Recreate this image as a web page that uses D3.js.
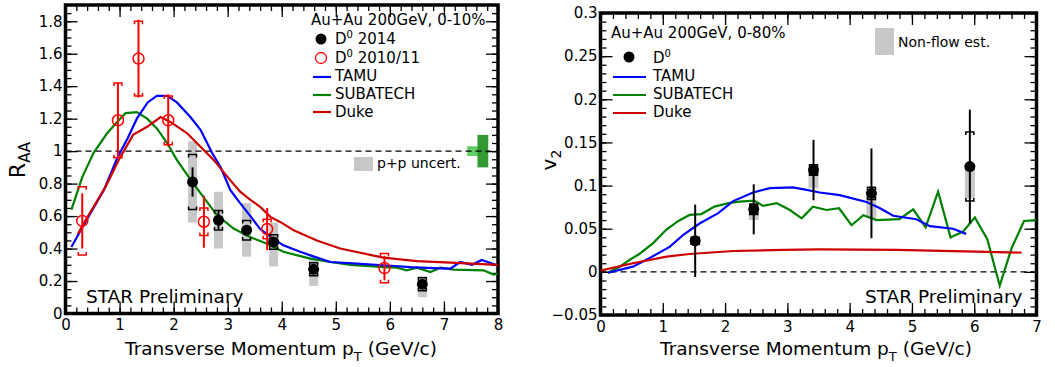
<!DOCTYPE html>
<html><head><meta charset="utf-8">
<script src="https://cdn.jsdelivr.net/npm/d3@7"></script>
<style>html,body{margin:0;padding:0;background:#fff;}svg{display:block;font-family:"DejaVu Sans",sans-serif;}</style>
</head><body>
<svg id="c" width="1055" height="367"></svg>
<script>
// ---------- DATA: left panel (R_AA, Au+Au 0-10%) ----------
const raaTicksY = [0,0.2,0.4,0.6,0.8,1,1.2,1.4,1.6,1.8];
const raaTicksX = [0,1,2,3,4,5,6,7,8];
const pt2014   = [2.35, 2.83, 3.35, 3.85, 4.59, 6.60];
const raa2014  = [0.81, 0.575, 0.513, 0.44, 0.272, 0.18];
const stat2014 = [0.09, 0.06, 0.025, 0.03, 0.02, 0.02];
const sys2014  = [0.17, 0.06, 0.06, 0.045, 0.04, 0.04];
const ppLo2014 = [0.56, 0.40, 0.35, 0.29, 0.17, 0.10];
const ppHi2014 = [1.06, 0.75, 0.68, 0.56, 0.35, 0.23];

const pt2010   = [0.31, 0.97, 1.35, 1.90, 2.56, 3.73, 5.90];
const raa2010  = [0.57, 1.19, 1.57, 1.19, 0.565, 0.52, 0.28];
const stat2010 = [0.17, 0.23, 0.24, 0.16, 0.16, 0.13, 0.075];
const sys2010  = [0.21, 0.23, 0.23, 0.15, 0.085, 0.06, 0.09];

const tamuX = [0.11,0.31,0.50,0.71,0.955,1.15,1.32,1.52,1.69,1.88,2.06,2.31,2.50,2.71,2.87,3.05,3.23,3.42,3.60,3.85,4.03,4.34,4.53,4.90,5.39,5.88,6.38,6.80,7.12,7.30,7.52,7.70,7.98];
const tamuY = [0.41,0.53,0.64,0.76,0.956,1.08,1.20,1.30,1.34,1.34,1.30,1.21,1.13,0.99,0.90,0.76,0.68,0.60,0.52,0.46,0.42,0.38,0.358,0.317,0.307,0.297,0.286,0.28,0.276,0.317,0.30,0.33,0.297];
const subX = [0.11,0.31,0.52,0.77,0.955,1.11,1.32,1.51,1.69,1.88,2.06,2.28,2.50,2.80,3.11,3.42,3.73,4.03,4.53,4.90,5.27,5.70,5.88,6.13,6.31,6.50,6.75,6.93,7.18,7.73,7.92,8.0];
const subY = [0.64,0.84,0.99,1.11,1.18,1.234,1.24,1.20,1.14,1.05,0.946,0.84,0.74,0.606,0.523,0.47,0.43,0.38,0.338,0.317,0.30,0.29,0.286,0.282,0.266,0.282,0.255,0.282,0.27,0.266,0.24,0.245];
const dukeX = [0.23,0.31,0.74,0.985,1.25,1.51,1.76,1.94,2.25,2.74,3.05,3.23,3.42,3.60,3.79,3.97,4.22,4.65,5.08,5.88,6.50,7.12,8.0];
const dukeY = [0.49,0.54,0.78,0.946,1.10,1.15,1.21,1.18,1.11,0.946,0.82,0.75,0.70,0.657,0.595,0.564,0.513,0.45,0.40,0.344,0.323,0.313,0.30];

// ---------- DATA: right panel (v2, Au+Au 0-80%) ----------
const v2TicksY = [-0.05,0,0.05,0.1,0.15,0.2,0.25,0.3];
const v2TicksX = [0,1,2,3,4,5,6,7];
const ptV2     = [1.52, 2.46, 3.42, 4.35, 5.93];
const v2       = [0.036, 0.0725, 0.118, 0.091, 0.122];
const v2Stat   = [0.042, 0.029, 0.035, 0.052, 0.066];
const v2Sys    = [0.004, 0.006, 0.006, 0.007, 0.040];
const nonflowLo= [0.033, 0.060, 0.097, 0.062, 0.085];

const tamuV2X = [0.12,0.52,0.79,1.11,1.33,1.59,1.89,2.13,2.45,2.72,3.09,3.31,3.52,3.84,4.27,4.48,4.70,5.07,5.29,5.66,5.87];
const tamuV2Y = [-0.001,0.006,0.016,0.029,0.043,0.056,0.068,0.082,0.092,0.097,0.098,0.095,0.092,0.089,0.081,0.074,0.065,0.061,0.053,0.050,0.044];
const subV2X = [0.12,0.31,0.47,0.63,0.84,1.06,1.25,1.43,1.62,1.83,2.07,2.23,2.47,2.61,2.83,3.04,3.23,3.41,3.63,3.83,4.03,4.22,4.43,4.80,5.02,5.22,5.42,5.62,5.82,6.01,6.21,6.41,6.60,6.80,7.0];
const subV2Y = [-0.001,0.006,0.014,0.021,0.033,0.049,0.059,0.066,0.067,0.0756,0.080,0.0814,0.0825,0.0764,0.0795,0.0717,0.062,0.0756,0.0717,0.0737,0.054,0.0656,0.060,0.061,0.0725,0.0517,0.093,0.040,0.0466,0.063,0.0378,-0.016,0.0274,0.059,0.060];
const dukeV2X = [0,0.52,1.06,1.43,2.13,2.93,3.52,4.75,6.04,6.76];
const dukeV2Y = [0.0014,0.010,0.0176,0.0207,0.0242,0.0254,0.026,0.0254,0.0234,0.0223];

// ---------- drawing ----------
const svg = d3.select("#c");
const C = {tamu:"#0000ff", sub:"#008000", duke:"#cc0000", red:"#ff0000", gray:"#c8c8c8"};
const fmt = d => String(+d.toFixed(3)).replace("-", "\u2212");

function minorTicks(lo, hi, step){ const n=Math.round((hi-lo)/step); return d3.range(n+1).map(i=>+(lo+i*step).toFixed(4)); }

function drawFrame(g, x, y, xMaj, xMin, yMaj, yMin, clipId){
  const [x0,x1]=x.range(), [y0,y1]=y.range();
  const put=(axis, tx, ty)=>{ const a=g.append("g").attr("transform",`translate(${tx},${ty})`).call(axis);
    a.select(".domain").remove(); a.selectAll("line").attr("stroke","#000").attr("stroke-width",1.3);
    a.selectAll("text").attr("font-size",15).attr("fill","#000").attr("font-family","DejaVu Sans"); return a; };
  put(d3.axisBottom(x).tickValues(xMaj).tickSizeInner(-12).tickSizeOuter(0).tickPadding(6).tickFormat(fmt),0,y0);
  put(d3.axisBottom(x).tickValues(xMin).tickSizeInner(-6).tickSizeOuter(0).tickFormat(""),0,y0);
  put(d3.axisTop(x).tickValues(xMaj).tickSizeInner(-12).tickSizeOuter(0).tickFormat(""),0,y1);
  put(d3.axisTop(x).tickValues(xMin).tickSizeInner(-6).tickSizeOuter(0).tickFormat(""),0,y1);
  put(d3.axisLeft(y).tickValues(yMaj).tickSizeInner(-12).tickSizeOuter(0).tickPadding(3).tickFormat(fmt),x0,0);
  put(d3.axisLeft(y).tickValues(yMin).tickSizeInner(-6).tickSizeOuter(0).tickFormat(""),x0,0);
  put(d3.axisRight(y).tickValues(yMaj).tickSizeInner(-12).tickSizeOuter(0).tickFormat(""),x1,0);
  put(d3.axisRight(y).tickValues(yMin).tickSizeInner(-6).tickSizeOuter(0).tickFormat(""),x1,0);
  g.append("rect").attr("x",x0).attr("y",y1).attr("width",x1-x0).attr("height",y0-y1)
    .attr("fill","none").attr("stroke","#000").attr("stroke-width",3.5);
  svg.append("clipPath").attr("id",clipId).append("rect").attr("x",x0).attr("y",y1).attr("width",x1-x0).attr("height",y0-y1);
}

function curve(g, xs, ys, x, y, color, clip){
  g.append("path").datum(xs.map((v,i)=>[v,ys[i]]))
   .attr("d", d3.line().x(d=>x(d[0])).y(d=>y(d[1])))
   .attr("fill","none").attr("stroke",color).attr("stroke-width",2.2).attr("clip-path",`url(#${clip})`);
}
function bracket(g, cx, yTop, yBot, color){
  const w=4, t=3;
  g.append("path").attr("d",`M${cx-w},${yTop+t}V${yTop}H${cx+w}V${yTop+t}M${cx-w},${yBot-t}V${yBot}H${cx+w}V${yBot-t}`)
   .attr("fill","none").attr("stroke",color).attr("stroke-width",1.5);
}
function vbar(g, cx, yA, yB, color){
  g.append("line").attr("x1",cx).attr("x2",cx).attr("y1",yA).attr("y2",yB).attr("stroke",color).attr("stroke-width",2);
}
function xTitle(g, cx, yb){
  const t=g.append("text").attr("x",cx).attr("y",yb).attr("text-anchor","middle").attr("font-size",18.5).attr("fill","#000");
  t.append("tspan").text("Transverse Momentum p");
  t.append("tspan").attr("dy",6).attr("font-size",13).text("T");
  t.append("tspan").attr("dy",-6).text(" (GeV/c)");
}
const LF = 15; // legend font size

// ===== LEFT PANEL =====
{
  const x = d3.scaleLinear([0,8],[65.5,498]);
  const y = d3.scaleLinear([0,1.9],[313.5,5]);
  const g = svg.append("g");
  pt2014.forEach((p,i)=>g.append("rect").attr("x",x(p)-4.5).attr("width",9)
     .attr("y",y(ppHi2014[i])).attr("height",y(ppLo2014[i])-y(ppHi2014[i])).attr("fill",C.gray));
  g.append("rect").attr("x",x(7.43)).attr("width",x(7.63)-x(7.43)).attr("y",y(1.03)).attr("height",y(0.97)-y(1.03)).attr("fill","#66cc66");
  g.append("rect").attr("x",x(7.62)).attr("width",x(7.82)-x(7.62)).attr("y",y(1.1)).attr("height",y(0.9)-y(1.1)).attr("fill","#339933");
  g.append("line").attr("x1",x(0)).attr("x2",x(8)).attr("y1",y(1)).attr("y2",y(1))
    .attr("stroke","#000").attr("stroke-width",1.3).attr("stroke-dasharray","6,4");
  drawFrame(g,x,y,raaTicksX,minorTicks(0,8,0.2),raaTicksY,minorTicks(0,1.9,0.05),"clipL");
  curve(g,subX,subY,x,y,C.sub,"clipL");
  curve(g,tamuX,tamuY,x,y,C.tamu,"clipL");
  curve(g,dukeX,dukeY,x,y,C.duke,"clipL");
  pt2010.forEach((p,i)=>{
    vbar(g,x(p),y(raa2010[i]+stat2010[i]),y(raa2010[i]-stat2010[i]),C.red);
    bracket(g,x(p),y(raa2010[i]+sys2010[i]),y(raa2010[i]-sys2010[i]),C.red);
    g.append("circle").attr("cx",x(p)).attr("cy",y(raa2010[i])).attr("r",5.5).attr("fill","none").attr("stroke",C.red).attr("stroke-width",1.5);
  });
  pt2014.forEach((p,i)=>{
    vbar(g,x(p),y(raa2014[i]+stat2014[i]),y(raa2014[i]-stat2014[i]),"#000");
    bracket(g,x(p),y(raa2014[i]+sys2014[i]),y(raa2014[i]-sys2014[i]),"#000");
    g.append("circle").attr("cx",x(p)).attr("cy",y(raa2014[i])).attr("r",5.5).attr("fill","#000");
  });
  // legend
  g.append("text").attr("x",311).attr("y",25).attr("font-size",15).text("Au+Au 200GeV, 0-10%");
  g.append("circle").attr("cx",321).attr("cy",39).attr("r",5.5).attr("fill","#000");
  g.append("circle").attr("cx",321).attr("cy",58).attr("r",5.5).attr("fill","none").attr("stroke",C.red).attr("stroke-width",1.3);
  [["D","0"," 2014",44],["D","0"," 2010/11",63]].forEach(([a,b,c,yy])=>{
    const t=g.append("text").attr("x",335).attr("y",yy).attr("font-size",LF);
    t.append("tspan").text(a); t.append("tspan").attr("dy",-6).attr("font-size",10).text(b); t.append("tspan").attr("dy",6).text(c);
  });
  [["TAMU",C.tamu,77,81],["SUBATECH",C.sub,95,99],["Duke",C.duke,112,117]].forEach(([n,c,ly,ty])=>{
    g.append("line").attr("x1",313).attr("x2",331).attr("y1",ly).attr("y2",ly).attr("stroke",c).attr("stroke-width",2.2);
    g.append("text").attr("x",335).attr("y",ty).attr("font-size",LF).text(n);
  });
  g.append("rect").attr("x",354).attr("y",157).attr("width",19).attr("height",14).attr("fill",C.gray);
  g.append("text").attr("x",377).attr("y",168).attr("font-size",14).text("p+p uncert.");
  g.append("text").attr("x",86).attr("y",303).attr("font-size",18.5).text("STAR Preliminary");
  xTitle(g,281,355);
  const yt=g.append("text").attr("transform","translate(25,160) rotate(-90)").attr("text-anchor","middle").attr("font-size",22);
  yt.append("tspan").text("R"); yt.append("tspan").attr("dy",5).attr("font-size",15).text("AA");
}

// ===== RIGHT PANEL =====
{
  const x = d3.scaleLinear([0,7],[600.5,1036.5]);
  const y = d3.scaleLinear([-0.05,0.3],[315,13]);
  const g = svg.append("g");
  ptV2.forEach((p,i)=>g.append("rect").attr("x",x(p)-5).attr("width",10)
     .attr("y",y(v2[i]+0.003)).attr("height",y(nonflowLo[i])-y(v2[i]+0.003)).attr("fill",C.gray));
  g.append("line").attr("x1",x(0)).attr("x2",x(7)).attr("y1",y(0)).attr("y2",y(0))
    .attr("stroke","#000").attr("stroke-width",1.3).attr("stroke-dasharray","6,4");
  drawFrame(g,x,y,v2TicksX,minorTicks(0,7,0.2),v2TicksY,minorTicks(-0.05,0.3,0.01),"clipR");
  curve(g,subV2X,subV2Y,x,y,C.sub,"clipR");
  curve(g,tamuV2X,tamuV2Y,x,y,C.tamu,"clipR");
  curve(g,dukeV2X,dukeV2Y,x,y,C.duke,"clipR");
  ptV2.forEach((p,i)=>{
    vbar(g,x(p),y(v2[i]+v2Stat[i]),y(v2[i]-v2Stat[i]),"#000");
    bracket(g,x(p),y(v2[i]+v2Sys[i]),y(v2[i]-v2Sys[i]),"#000");
    g.append("circle").attr("cx",x(p)).attr("cy",y(v2[i])).attr("r",5.5).attr("fill","#000");
  });
  g.append("text").attr("x",611).attr("y",38).attr("font-size",15).text("Au+Au 200GeV, 0-80%");
  g.append("circle").attr("cx",629).attr("cy",57).attr("r",5.5).attr("fill","#000");
  const t=g.append("text").attr("x",653).attr("y",63).attr("font-size",LF);
  t.append("tspan").text("D"); t.append("tspan").attr("dy",-6).attr("font-size",10).text("0");
  [["TAMU",C.tamu,77,81],["SUBATECH",C.sub,95,99],["Duke",C.duke,113,117]].forEach(([n,c,ly,ty])=>{
    g.append("line").attr("x1",613).attr("x2",646).attr("y1",ly).attr("y2",ly).attr("stroke",c).attr("stroke-width",2.2);
    g.append("text").attr("x",653).attr("y",ty).attr("font-size",LF).text(n);
  });
  g.append("rect").attr("x",875).attr("y",28).attr("width",19).attr("height",27).attr("fill",C.gray);
  g.append("text").attr("x",898).attr("y",47).attr("font-size",14).text("Non-flow est.");
  g.append("text").attr("x",865).attr("y",303).attr("font-size",18.5).text("STAR Preliminary");
  xTitle(g,816,355);
  const yt=g.append("text").attr("transform","translate(556,160) rotate(-90)").attr("text-anchor","middle").attr("font-size",20);
  yt.append("tspan").text("v"); yt.append("tspan").attr("dy",5).attr("font-size",14).text("2");
}
</script>
</body></html>
